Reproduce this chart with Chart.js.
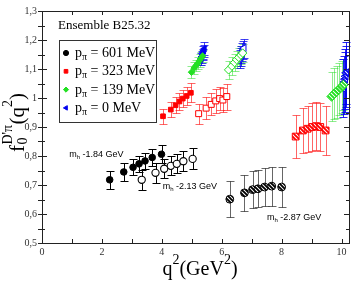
<!DOCTYPE html>
<html lang="en">
<head>
<meta charset="UTF-8">
<title>f0 D'pi form factor - Ensemble B25.32</title>
<script src="https://cdn.jsdelivr.net/npm/chart.js"></script>
<style>
    body { margin: 0; background: #fff; }
    canvas { display: block; }
</style>
</head>
<body>
<canvas id="ffChart" width="362" height="283"></canvas>
<script>
    // Axis ticks
    const xTicks = [0, 2, 4, 6, 8, 10];
    const yTicks = [0.5, 0.6, 0.7, 0.8, 0.9, 1.0, 1.1, 1.2, 1.3];

    // Legend / labels
    const pionMomenta = ["601", "323", "139", "0"];
    const heavyMasses = ["-1.84 GeV", "-2.13 GeV", "-2.87 GeV"];

    // p_pi = 601 MeV (black)  -- mh 1.84 / 2.13 / 2.87
    const q2_601_a = [2.26, 2.73, 3.04, 3.24, 3.44, 3.68, 3.99];
    const f0_601_a = [0.718, 0.745, 0.761, 0.773, 0.783, 0.795, 0.806];
    const er_601_a = [0.032, 0.030, 0.028, 0.028, 0.028, 0.028, 0.031];
    const q2_601_b = [3.33, 3.79, 4.08, 4.30, 4.50, 4.72, 5.03];
    const f0_601_b = [0.718, 0.742, 0.756, 0.766, 0.773, 0.782, 0.790];
    const er_601_b = [0.035, 0.035, 0.033, 0.033, 0.033, 0.034, 0.036];
    const q2_601_c = [6.27, 6.76, 7.03, 7.21, 7.43, 7.67, 8.00];
    const f0_601_c = [0.651, 0.673, 0.684, 0.687, 0.693, 0.696, 0.693];
    const er_601_c = [0.062, 0.062, 0.063, 0.064, 0.066, 0.067, 0.070];

    // p_pi = 323 MeV (red)
    const q2_323_a = [4.04, 4.30, 4.46, 4.59, 4.70, 4.83, 4.97];
    const f0_323_a = [0.937, 0.960, 0.975, 0.988, 0.998, 1.007, 1.018];
    const er_323_a = [0.025, 0.025, 0.027, 0.028, 0.030, 0.030, 0.033];
    const q2_323_b = [5.23, 5.48, 5.65, 5.80, 5.93, 6.04, 6.17];
    const f0_323_b = [0.946, 0.965, 0.978, 0.990, 0.998, 0.993, 1.005];
    const er_323_b = [0.035, 0.037, 0.038, 0.040, 0.040, 0.042, 0.045];
    const q2_323_c = [8.47, 8.71, 8.87, 9.02, 9.16, 9.29, 9.47];
    const f0_323_c = [0.867, 0.888, 0.894, 0.900, 0.903, 0.900, 0.888];
    const er_323_c = [0.075, 0.078, 0.080, 0.082, 0.082, 0.083, 0.085];

    // p_pi = 139 MeV (green)
    const q2_139_a = [4.99, 5.08, 5.14, 5.20, 5.26, 5.31, 5.36];
    const f0_139_a = [1.089, 1.103, 1.112, 1.120, 1.129, 1.137, 1.145];
    const er_139_a = [0.020, 0.020, 0.020, 0.020, 0.022, 0.022, 0.022];
    const q2_139_b = [6.23, 6.34, 6.43, 6.50, 6.57, 6.64, 6.70];
    const f0_139_b = [1.097, 1.110, 1.122, 1.132, 1.140, 1.148, 1.155];
    const er_139_b = [0.030, 0.030, 0.030, 0.030, 0.031, 0.031, 0.032];
    const q2_139_c = [9.67, 9.76, 9.84, 9.92, 10.00, 10.06];
    const f0_139_c = [1.005, 1.015, 1.022, 1.030, 1.037, 1.045];
    const er_139_c = [0.085, 0.088, 0.090, 0.090, 0.090, 0.088];

    // p_pi = 0 MeV (blue)
    const q2_0_a = [5.31, 5.33, 5.36, 5.38, 5.40, 5.42];
    const f0_0_a = [1.135, 1.142, 1.150, 1.157, 1.163, 1.170];
    const er_0_a = [0.020, 0.020, 0.020, 0.021, 0.021, 0.022];
    const q2_0_b = [6.60, 6.63, 6.66, 6.69, 6.72, 6.74];
    const f0_0_b = [1.135, 1.142, 1.150, 1.157, 1.165, 1.172];
    const er_0_b = [0.030, 0.030, 0.030, 0.031, 0.032, 0.033];
    const q2_0_c = [10.05, 10.08, 10.10, 10.12, 10.14, 10.16];
    const f0_0_c = [1.035, 1.045, 1.055, 1.065, 1.075, 1.087];
    const er_0_c = [0.100, 0.100, 0.102, 0.104, 0.105, 0.106];

    const ctx = document.getElementById("ffChart").getContext("2d");
    const serif = "'Liberation Serif', 'DejaVu Serif', serif";
    const sans = "'Liberation Sans', Arial, sans-serif";

    // diagonal hatch fill for the m_h = 2.87 GeV points
    function hatch(color) {
        const c = document.createElement("canvas");
        c.width = 4; c.height = 4;
        const g = c.getContext("2d");
        g.fillStyle = "#fff";
        g.fillRect(0, 0, 4, 4);
        g.strokeStyle = color;
        g.lineWidth = 1.9;
        g.beginPath();
        g.moveTo(-1, -1); g.lineTo(5, 5);
        g.moveTo(-1, 3); g.lineTo(1, 5);
        g.moveTo(3, -1); g.lineTo(5, 1);
        g.stroke();
        return ctx.createPattern(c, "repeat");
    }

    function series(q2, f0, err, opts) {
        return {
            data: q2.map((x, i) => ({ x: x, y: f0[i] })),
            err: err,
            errColor: opts.errColor,
            showLine: false,
            pointStyle: opts.style,
            pointRotation: opts.rotation || 0,
            pointRadius: opts.radius,
            pointBackgroundColor: opts.fill,
            pointBorderColor: opts.color,
            pointBorderWidth: opts.bw || 1
        };
    }

    const black = "#000", red = "#ff0000", green = "#22e022", blue = "#0000ee";
    const datasets = [
        series(q2_601_a, f0_601_a, er_601_a, { style: "circle", radius: 3.3, color: black, fill: black, errColor: "#000" }),
        series(q2_601_b, f0_601_b, er_601_b, { style: "circle", radius: 3.6, color: black, fill: "#fff", errColor: "#000", bw: 1.1 }),
        series(q2_601_c, f0_601_c, er_601_c, { style: "circle", radius: 3.9, color: black, fill: hatch(black), errColor: "rgba(0,0,0,0.6)" }),
        series(q2_323_a, f0_323_a, er_323_a, { style: "rect", radius: 3.3, color: red, fill: red, errColor: "rgba(255,0,0,0.6)" }),
        series(q2_323_b, f0_323_b, er_323_b, { style: "rect", radius: 4.2, color: red, fill: "#fff", errColor: "rgba(255,0,0,0.6)" }),
        series(q2_323_c, f0_323_c, er_323_c, { style: "rect", radius: 4.8, color: red, fill: hatch(red), errColor: "rgba(255,0,0,0.6)" }),
        series(q2_139_a, f0_139_a, er_139_a, { style: "rectRot", radius: 3.2, color: green, fill: green, errColor: "rgba(30,220,30,0.5)" }),
        series(q2_139_b, f0_139_b, er_139_b, { style: "rectRot", radius: 4.2, color: green, fill: "#fff", errColor: "rgba(30,220,30,0.5)" }),
        series(q2_139_c, f0_139_c, er_139_c, { style: "rectRot", radius: 4.8, color: green, fill: hatch(green), errColor: "rgba(30,220,30,0.5)" }),
        series(q2_0_a, f0_0_a, er_0_a, { style: "triangle", rotation: -90, radius: 3.6, color: blue, fill: blue, errColor: "rgba(0,0,238,0.75)" }),
        series(q2_0_b, f0_0_b, er_0_b, { style: "triangle", rotation: -90, radius: 4.2, color: blue, fill: "#fff", errColor: "rgba(0,0,238,0.75)" }),
        series(q2_0_c, f0_0_c, er_0_c, { style: "triangle", rotation: -90, radius: 4.6, color: blue, fill: hatch(blue), errColor: "rgba(0,0,238,0.85)" })
    ];

    // draw text pieces in a row: [text, fontSize, dy]
    function drawRich(c, parts, x, y, family) {
        parts.forEach(p => {
            c.font = p[1] + "px " + family;
            c.fillText(p[0], x, y + p[2]);
            x += c.measureText(p[0]).width;
        });
        return x;
    }

    // error bars under the markers
    const errorBars = {
        id: "errorBars",
        beforeDatasetsDraw(chart) {
            const c = chart.ctx, xs = chart.scales.x, ys = chart.scales.y;
            chart.data.datasets.forEach(ds => {
                c.save();
                c.strokeStyle = ds.errColor;
                c.lineWidth = 1;
                ds.data.forEach((p, i) => {
                    const px = Math.round(xs.getPixelForValue(p.x)) + 0.5;
                    const top = Math.round(ys.getPixelForValue(p.y + ds.err[i])) + 0.5;
                    const bot = Math.round(ys.getPixelForValue(p.y - ds.err[i])) + 0.5;
                    c.beginPath();
                    c.moveTo(px, top); c.lineTo(px, bot);
                    c.moveTo(px - 4, top); c.lineTo(px + 4, top);
                    c.moveTo(px - 4, bot); c.lineTo(px + 4, bot);
                    c.stroke();
                });
                c.restore();
            });
        }
    };

    // frame, inside ticks, titles, legend and annotations
    const decorations = {
        id: "decorations",
        beforeDatasetsDraw(chart) {
            const c = chart.ctx, a = chart.chartArea, xs = chart.scales.x, ys = chart.scales.y;
            c.save();
            c.strokeStyle = "#222";
            c.lineWidth = 1;
            c.strokeRect(Math.round(a.left) + 0.5, Math.round(a.top) + 0.5,
                Math.round(a.right - a.left), Math.round(a.bottom - a.top));
            c.beginPath();
            for (let v = 0; v <= 10; v++) {
                const px = Math.round(xs.getPixelForValue(v)) + 0.5;
                c.moveTo(px, a.bottom); c.lineTo(px, a.bottom - 4);
                c.moveTo(px, a.top); c.lineTo(px, a.top + 4);
            }
            for (let k = 0; k <= 16; k++) {
                const v = 0.5 + k * 0.05;
                const py = Math.round(ys.getPixelForValue(v)) + 0.5;
                const len = k % 2 === 0 ? 5 : 3;
                c.moveTo(a.left - 4, py); c.lineTo(a.left + len, py);
                c.moveTo(a.right, py); c.lineTo(a.right - len, py);
            }
            c.stroke();
            c.restore();
        },
        afterDraw(chart) {
            const c = chart.ctx, xs = chart.scales.x, ys = chart.scales.y;
            c.save();
            c.fillStyle = "#000";
            c.textBaseline = "alphabetic";

            // x title: q^2(GeV^2)
            const xParts = [["q", 20, 0], ["2", 14, -11], ["(GeV", 20, 0], ["2", 14, -11], [")", 20, 0]];
            let w = 0;
            xParts.forEach(p => { c.font = p[1] + "px " + serif; w += c.measureText(p[0]).width; });
            drawRich(c, xParts, 200 - w / 2, 275, serif);

            // y title: f_0^{D'pi}(q^2), rotated
            c.save();
            c.translate(24, 122.5);
            c.rotate(-Math.PI / 2);
            c.font = "21px " + serif;
            const fW = c.measureText("f").width;
            c.font = "14px " + serif;
            const supW = c.measureText("D'\u03c0").width;
            const rest = [["(q", 21, 0], ["2", 14, -12], [")", 21, 0]];
            let rW = 0;
            rest.forEach(p => { c.font = p[1] + "px " + serif; rW += c.measureText(p[0]).width; });
            let x0 = -(fW + supW + 1 + rW) / 2;
            c.font = "21px " + serif;
            c.fillText("f", x0, 0);
            x0 += fW + 0.5;
            c.font = "14px " + serif;
            c.fillText("D'\u03c0", x0, -12);
            c.fillText("0", x0, 3);
            x0 += supW + 0.5;
            drawRich(c, rest, x0, 0, serif);
            c.restore();

            // ensemble label
            c.font = "13px " + serif;
            c.fillText("Ensemble B25.32", 58, 29);

            // legend box
            c.strokeStyle = "#333";
            c.lineWidth = 1;
            c.strokeRect(59.5, 40.5, 97, 82);
            const styles = chart.data.datasets.filter((d, i) => i % 3 === 0);
            pionMomenta.forEach((m, i) => {
                const ds = styles[i];
                const yb = 57 + i * 18.3;
                c.fillStyle = ds.pointBorderColor;
                c.strokeStyle = ds.pointBorderColor;
                Chart.helpers.drawPoint(c, {
                    pointStyle: ds.pointStyle,
                    rotation: ds.pointRotation,
                    radius: 2.6,
                    borderWidth: 1
                }, 66, yb - 4);
                c.fillStyle = "#000";
                drawRich(c, [["p", 14, 0], ["\u03c0", 10, 3], [" = " + m + " MeV", 14, 0]], 75, yb, serif);
            });

            // heavy mass annotations
            const notes = [[0.91, 0.798], [4.03, 0.686], [7.51, 0.5805]];
            heavyMasses.forEach((t, i) => {
                const px = xs.getPixelForValue(notes[i][0]);
                const py = ys.getPixelForValue(notes[i][1]);
                drawRich(c, [["m", 9, 0], ["h", 6, 2], [" " + t, 9, 0]], px, py, sans);
            });
            c.restore();
        }
    };

    new Chart(ctx, {
        type: "scatter",
        data: { datasets: datasets },
        options: {
            responsive: false,
            animation: false,
            layout: { padding: { top: 7, right: 13, left: 0, bottom: 0 } },
            plugins: { legend: { display: false }, tooltip: { enabled: false } },
            scales: {
                x: {
                    type: "linear",
                    min: 0,
                    max: 10.25,
                    afterFit: s => { s.height = 40; },
                    afterBuildTicks: s => { s.ticks = xTicks.map(v => ({ value: v })); },
                    grid: { display: false, drawTicks: false },
                    border: { display: false },
                    ticks: {
                        padding: 3,
                        color: "#333",
                        font: { family: serif, size: 10 },
                        maxRotation: 0,
                        callback: v => String(v)
                    }
                },
                y: {
                    type: "linear",
                    min: 0.5,
                    max: 1.3,
                    afterFit: s => { s.width = 42; },
                    afterBuildTicks: s => { s.ticks = yTicks.map(v => ({ value: v })); },
                    grid: { display: false, drawTicks: false },
                    border: { display: false },
                    ticks: {
                        padding: 5,
                        color: "#333",
                        font: { family: serif, size: 10 },
                        callback: v => (Math.abs(v - 1) < 1e-9 ? "1" : v.toFixed(1).replace(".", ","))
                    }
                }
            }
        },
        plugins: [errorBars, decorations]
    });
</script>
</body>
</html>
